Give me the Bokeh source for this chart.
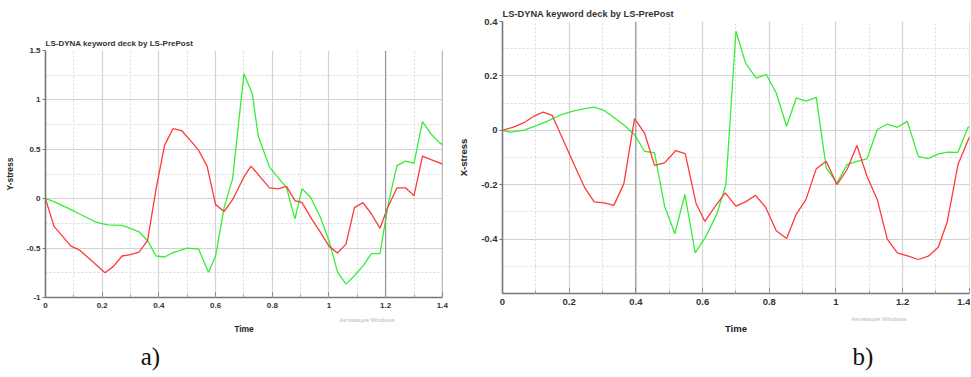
from bokeh.plotting import figure
from bokeh.models import (Range1d, SingleIntervalTicker, FixedTicker, CustomJSTickFormatter,
                          Span, LinearAxis)
from bokeh.layouts import row, column
from bokeh.embed import file_html
from bokeh.resources import INLINE

# ---------------- data: panel a) Y-stress ----------------
a_red_t = [0, 0.03, 0.09, 0.12, 0.16, 0.21, 0.24, 0.27, 0.30, 0.33, 0.36, 0.39, 0.42,
           0.45, 0.48, 0.52, 0.54, 0.57, 0.60, 0.63, 0.66, 0.70, 0.725, 0.79, 0.82, 0.85,
           0.88, 0.905, 0.94, 0.97, 1.0, 1.03, 1.06, 1.09, 1.12, 1.15, 1.18, 1.205, 1.24,
           1.27, 1.30, 1.33, 1.36, 1.41]
a_red_v = [0, -0.28, -0.48, -0.52, -0.62, -0.75, -0.685, -0.58, -0.567, -0.54, -0.425,
           0.10, 0.54, 0.71, 0.69, 0.56, 0.49, 0.33, -0.06, -0.13, -0.01, 0.22, 0.33, 0.11,
           0.10, 0.125, -0.02, -0.04, -0.21, -0.34, -0.48, -0.55, -0.46, -0.09, -0.04,
           -0.155, -0.30, -0.105, 0.11, 0.11, 0.03, 0.43, 0.395, 0.34]
a_green_t = [0, 0.03, 0.09, 0.12, 0.18, 0.22, 0.27, 0.30, 0.33, 0.36, 0.39, 0.42, 0.45,
             0.50, 0.54, 0.575, 0.60, 0.63, 0.66, 0.70, 0.73, 0.75, 0.79, 0.82, 0.85, 0.88,
             0.905, 0.935, 0.97, 1.0, 1.03, 1.06, 1.09, 1.12, 1.15, 1.18, 1.21, 1.24, 1.27,
             1.30, 1.33, 1.36, 1.39, 1.41]
a_green_v = [0, -0.03, -0.11, -0.155, -0.24, -0.265, -0.27, -0.30, -0.335, -0.425, -0.58,
             -0.59, -0.545, -0.50, -0.51, -0.745, -0.58, -0.09, 0.20, 1.265, 1.06, 0.64,
             0.32, 0.215, 0.115, -0.205, 0.10, 0.015, -0.19, -0.425, -0.74, -0.865, -0.78,
             -0.68, -0.555, -0.555, -0.04, 0.335, 0.38, 0.36, 0.78, 0.655, 0.565, 0.535]

# ---------------- data: panel b) X-stress ----------------
b_red_t = [0, 0.033, 0.063, 0.093, 0.122, 0.149, 0.177, 0.217, 0.247, 0.275, 0.305, 0.334,
           0.364, 0.396, 0.426, 0.456, 0.486, 0.519, 0.548, 0.58, 0.607, 0.64, 0.668, 0.70,
           0.729, 0.759, 0.789, 0.821, 0.852, 0.881, 0.910, 0.941, 0.971, 1.003, 1.033,
           1.063, 1.093, 1.124, 1.154, 1.184, 1.217, 1.247, 1.277, 1.307, 1.334, 1.366,
           1.396, 1.41]
b_red_v = [0, 0.012, 0.027, 0.051, 0.067, 0.055, -0.022, -0.132, -0.212, -0.263, -0.267,
           -0.276, -0.196, 0.043, -0.01, -0.129, -0.12, -0.075, -0.086, -0.267, -0.335,
           -0.276, -0.23, -0.279, -0.263, -0.239, -0.283, -0.369, -0.398, -0.308, -0.255,
           -0.141, -0.114, -0.2, -0.145, -0.056, -0.169, -0.255, -0.4, -0.451, -0.463,
           -0.475, -0.463, -0.43, -0.335, -0.126, -0.037, -0.004]
b_green_t = [0, 0.025, 0.063, 0.098, 0.132, 0.177, 0.217, 0.247, 0.275, 0.306, 0.336,
             0.366, 0.396, 0.426, 0.456, 0.486, 0.517, 0.547, 0.578, 0.61, 0.642, 0.67,
             0.70, 0.729, 0.761, 0.791, 0.821, 0.852, 0.881, 0.911, 0.941, 0.971, 1.003,
             1.033, 1.063, 1.093, 1.124, 1.154, 1.184, 1.214, 1.247, 1.277, 1.307, 1.336,
             1.366, 1.396, 1.41]
b_green_v = [0, -0.007, 0, 0.015, 0.032, 0.058, 0.072, 0.08, 0.085, 0.072, 0.045, 0.018,
             -0.016, -0.077, -0.083, -0.279, -0.38, -0.236, -0.451, -0.39, -0.31, -0.2,
             0.364, 0.247, 0.192, 0.205, 0.137, 0.015, 0.119, 0.107, 0.121, -0.139, -0.194,
             -0.126, -0.114, -0.105, 0.003, 0.023, 0.011, 0.033, -0.096, -0.104, -0.087,
             -0.08, -0.081, 0.011, 0.014]

TITLE = "LS-DYNA keyword deck by LS-PrePost"
X_LABEL = "Time"
A_YLABEL = "Y-stress"
B_YLABEL = "X-stress"
A_TAG = "a)"
B_TAG = "b)"
WM1 = "Активация Windows"

FONT = "Liberation Sans"
RED = "#ff3a3a"
GREEN = "#35ee35"

fmt = CustomJSTickFormatter(code="return String(Math.round(tick*100)/100);")


def bare_axis(ax):
    ax.axis_line_color = None
    ax.major_tick_line_color = None
    ax.minor_tick_line_color = None
    ax.major_tick_in = 0
    ax.major_tick_out = 0
    ax.minor_tick_in = 0
    ax.minor_tick_out = 0


def build(width, height, xend, yr, yint, borders, fs_title, fs_tick, fs_lab, ylabel,
          wm_x, tag, tag_x, tag_standoff, wm_standoff, time_standoff):
    p = figure(width=width, height=height, x_range=Range1d(0, xend), y_range=Range1d(*yr),
               output_backend="svg", toolbar_location=None,
               min_border_left=borders[0], min_border_right=borders[1],
               min_border_top=borders[2], min_border_bottom=borders[3])
    p.title.text = TITLE
    p.title.text_font = FONT
    p.title.text_font_style = "bold"
    p.title.text_font_size = fs_title
    p.title.text_color = "#333333"
    p.title.align = "left"
    p.title.standoff = 5
    p.outline_line_color = None

    p.xaxis.ticker = SingleIntervalTicker(interval=0.2, num_minor_ticks=2)
    p.yaxis.ticker = SingleIntervalTicker(interval=yint, num_minor_ticks=2)
    for ax in (p.xaxis[0], p.yaxis[0]):
        ax.formatter = fmt
        ax.major_label_text_font = FONT
        ax.major_label_text_font_style = "bold"
        ax.major_label_text_font_size = fs_tick
        ax.major_label_text_color = "#333333"
        ax.axis_label_text_font = FONT
        ax.axis_label_text_font_style = "bold"
        ax.axis_label_text_font_size = fs_lab
        ax.axis_label_text_color = "#222222"
        ax.axis_line_color = "#777777"
        ax.axis_line_width = 1.6
        ax.major_tick_line_color = "#777777"
        ax.minor_tick_line_color = "#999999"
    p.xaxis.major_tick_in = 5
    p.xaxis.major_tick_out = 0
    p.xaxis.minor_tick_in = 3
    p.xaxis.minor_tick_out = 0
    p.xaxis.major_label_standoff = 5
    p.yaxis.major_tick_in = 0
    p.yaxis.major_tick_out = 3
    p.yaxis.minor_tick_in = 0
    p.yaxis.minor_tick_out = 0
    p.yaxis.major_label_standoff = 2
    p.yaxis.axis_label = ylabel
    p.yaxis.axis_label_standoff = 9

    for g in (p.xgrid[0], p.ygrid[0]):
        g.grid_line_color = "#d2d2d2"
        g.grid_line_width = 1.2
        g.minor_grid_line_color = "#d8d8d8"
        g.minor_grid_line_dash = "2 2"
        g.minor_grid_line_width = 1

    # second below axis: watermark text + "Time" label
    ax2 = LinearAxis(ticker=FixedTicker(ticks=[wm_x]), major_label_overrides={wm_x: WM1})
    bare_axis(ax2)
    ax2.major_label_text_font = FONT
    ax2.major_label_text_font_size = "6px"
    ax2.major_label_text_color = "#b8b8b8"
    ax2.major_label_standoff = wm_standoff
    ax2.axis_label = X_LABEL
    ax2.axis_label_text_font = FONT
    ax2.axis_label_text_font_style = "bold"
    ax2.axis_label_text_font_size = fs_lab
    ax2.axis_label_text_color = "#222222"
    ax2.axis_label_standoff = time_standoff
    p.add_layout(ax2, "below")

    # third below axis: panel tag
    ax3 = LinearAxis(ticker=FixedTicker(ticks=[tag_x]), major_label_overrides={tag_x: tag})
    bare_axis(ax3)
    ax3.major_label_text_font = "Liberation Serif"
    ax3.major_label_text_font_size = "25px"
    ax3.major_label_text_color = "#111111"
    ax3.major_label_standoff = tag_standoff
    p.add_layout(ax3, "below")
    return p


pa = build(455, 376, 1.4005, (-1, 1.5), 0.5, (45, 13, 50, 79), "8px", "8px", "8.5px",
           A_YLABEL, 1.135, A_TAG, 0.37, 6, 6, -2)
pa.add_layout(Span(location=1.2, dimension="height", line_color="#8a8a8a", line_width=1))
pa.add_layout(Span(location=1.4, dimension="height", line_color="#8a8a8a", line_width=1))
pa.line(a_green_t, a_green_v, line_color=GREEN, line_width=1.3)
pa.line(a_red_t, a_red_v, line_color=RED, line_width=1.3)

pb = build(515, 376, 1.4005, (-0.6, 0.4), 0.2, (44, 1, 21, 83), "9.3px", "9.5px", "9.5px",
           B_YLABEL, 1.129, B_TAG, 1.081, 6, 8, -2)
pb.add_layout(Span(location=0.4, dimension="height", line_color="#8a8a8a", line_width=1))
pb.line(b_green_t, b_green_v, line_color=GREEN, line_width=1.3)
pb.line(b_red_t, b_red_v, line_color=RED, line_width=1.3)

layout = row(column(pa), column(pb))
open("out.html", "w").write(file_html(layout, INLINE))
